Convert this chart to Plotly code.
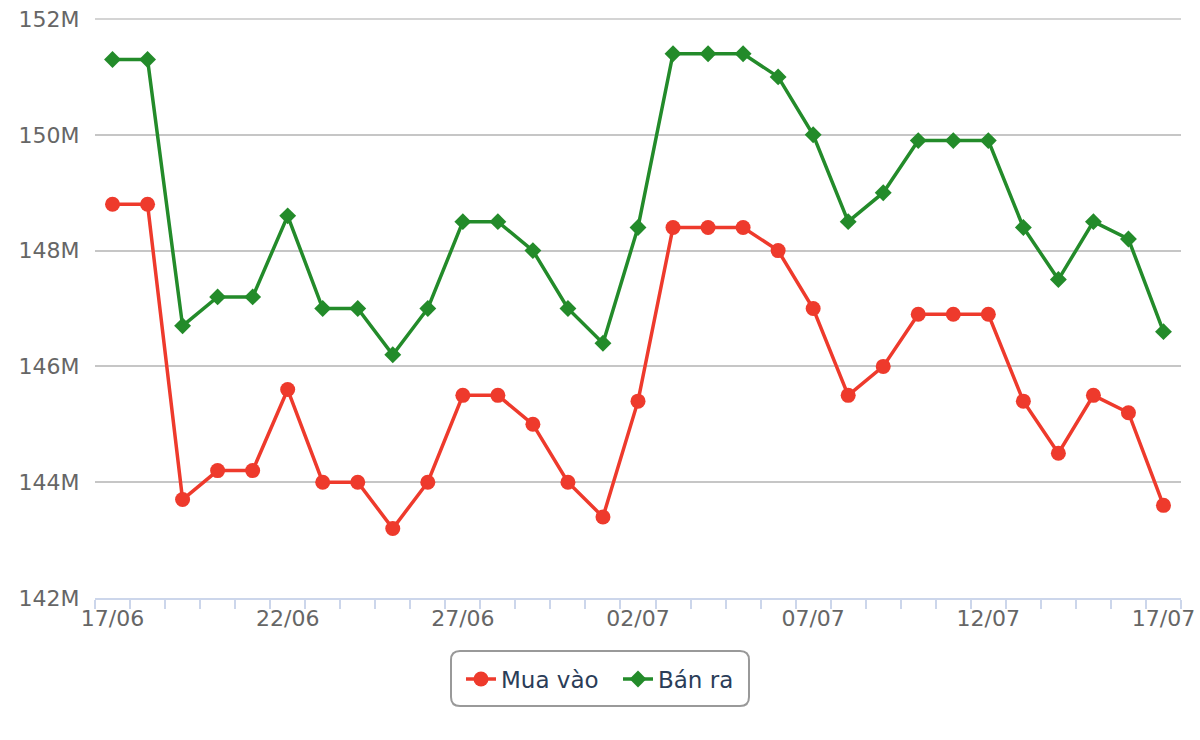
import plotly.graph_objects as go

dates = ["17/06","18/06","19/06","20/06","21/06","22/06","23/06","24/06","25/06","26/06",
         "27/06","28/06","29/06","30/06","01/07","02/07","03/07","04/07","05/07","06/07",
         "07/07","08/07","09/07","10/07","11/07","12/07","13/07","14/07","15/07","16/07","17/07"]
mua_vao = [148.8,148.8,143.7,144.2,144.2,145.6,144.0,144.0,143.2,144.0,
           145.5,145.5,145.0,144.0,143.4,145.4,148.4,148.4,148.4,148.0,
           147.0,145.5,146.0,146.9,146.9,146.9,145.4,144.5,145.5,145.2,143.6]
ban_ra = [151.3,151.3,146.7,147.2,147.2,148.6,147.0,147.0,146.2,147.0,
          148.5,148.5,148.0,147.0,146.4,148.4,151.4,151.4,151.4,151.0,
          150.0,148.5,149.0,149.9,149.9,149.9,148.4,147.5,148.5,148.2,146.6]
y_ticks = [142, 144, 146, 148, 150, 152]
y_ticklabels = ["142M", "144M", "146M", "148M", "150M", "152M"]

xs = list(range(len(dates)))
mua_full = [v * 1e6 for v in mua_vao]
ban_full = [v * 1e6 for v in ban_ra]

fig = go.Figure()
fig.add_trace(go.Scatter(x=xs, y=mua_full, name="Mua vào", mode="lines+markers",
                         line=dict(color="#ee3a2c", width=3.5),
                         marker=dict(symbol="circle", size=15, color="#ee3a2c")))
fig.add_trace(go.Scatter(x=xs, y=ban_full, name="Bán ra", mode="lines+markers",
                         line=dict(color="#238b2a", width=3.5),
                         marker=dict(symbol="diamond", size=13, color="#238b2a")))

W, H = 1200, 740
ml, mr, mt, mb = 95, 19, 18, 142
pw, ph = W - ml - mr, H - mt - mb
ytop = 152e6 + 10e6 / 579.0

def px_x(p):
    return (p - ml) / pw

def px_y(p):
    return (H - mb - p) / ph

x0, x1, y0, y1 = px_x(451), px_x(749), px_y(651), px_y(706)
rx, ry = 9 / pw, 9 / ph
path = (f"M {x0+rx},{y0} L {x1-rx},{y0} Q {x1},{y0} {x1},{y0-ry} "
        f"L {x1},{y1+ry} Q {x1},{y1} {x1-rx},{y1} L {x0+rx},{y1} "
        f"Q {x0},{y1} {x0},{y1+ry} L {x0},{y0-ry} Q {x0},{y0} {x0+rx},{y0} Z")

fig.update_layout(
    width=W, height=H,
    margin=dict(l=ml, r=mr, t=mt, b=mb, autoexpand=False),
    paper_bgcolor="white", plot_bgcolor="white",
    font=dict(family="DejaVu Sans", size=22, color="#666666"),
    showlegend=True,
    legend=dict(orientation="h", xref="container", yref="container",
                x=461 / W, xanchor="left", y=1 - 679 / H, yanchor="middle",
                font=dict(size=23, color="#2b3d58"), bgcolor="rgba(0,0,0,0)",
                entrywidth=112, entrywidthmode="pixels", traceorder="normal"),
    xaxis=dict(range=[-0.5, len(dates) - 0.5], tickmode="array", automargin=False,
               tickvals=xs[::5], ticktext=dates[::5], ticks="", showgrid=False,
               showline=True, linecolor="#ccd6eb", linewidth=2, zeroline=False,
               tickfont=dict(size=22, color="#666666"),
               minor=dict(tickmode="linear", tick0=-0.5, dtick=1, ticks="outside",
                          ticklen=9, tickcolor="#ccd6eb", tickwidth=2, showgrid=False)),
    yaxis=dict(range=[142e6, ytop], tickmode="array", automargin=False,
               tickvals=[v * 1e6 for v in y_ticks], ticktext=y_ticklabels,
               showgrid=True, gridcolor="#c6c6c6", gridwidth=1.5, zeroline=False,
               showline=False, ticks="outside", ticklen=10, tickcolor="rgba(0,0,0,0)",
               tickfont=dict(size=22, color="#666666")),
    shapes=[dict(type="path", xref="paper", yref="paper", path=path,
                 line=dict(color="#999999", width=2), fillcolor="rgba(0,0,0,0)"),
            dict(type="line", xref="paper", yref="y", x0=0, x1=1,
                 y0=y_ticks[-1] * 1e6, y1=y_ticks[-1] * 1e6, layer="below",
                 line=dict(color="#c6c6c6", width=1.5))],
)

fig.write_html("out.html")
